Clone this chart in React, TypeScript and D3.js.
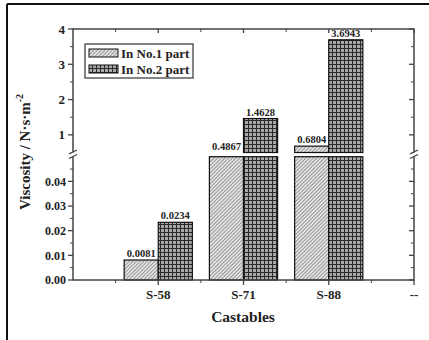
import * as d3 from "d3";

// values
const categories = ["S-58", "S-71", "S-88"];
const part1 = [0.0081, 0.4867, 0.6804];
const part2 = [0.0234, 1.4628, 3.6943];
const seriesNames = ["In No.1 part", "In No.2 part"];
const part1Labels = ["0.0081", "0.4867", "0.6804"];
const part2Labels = ["0.0234", "1.4628", "3.6943"];
const upperTicks = [1, 2, 3, 4];
const lowerTicks = [0, 0.01, 0.02, 0.03, 0.04];
const xTickLabels = [...categories, "--"];

const W = 429;
const H = 340;
const FONT = "'Liberation Serif', 'Times New Roman', serif";
const AXIS = "#444";
const TOP_MIN = 0.5;
const BOT_MAX = 0.05;

function App() {
   const x = d3.scaleLinear().domain([0, 4]).range([73, 414]);
   const yTop = d3.scaleLinear().domain([TOP_MIN, 4]).range([152.5, 29]);
   const yBot = d3.scaleLinear().domain([0, BOT_MAX]).range([280, 156.7]);
   const bw = 0.4;

   // clip a value into each panel
   const topSeg = (v: number) =>
      v > TOP_MIN ? { y0: yTop(v), y1: yTop(TOP_MIN) } : null;
   const botSeg = (v: number) => {
      const c = Math.min(v, BOT_MAX);
      return { y0: yBot(c), y1: yBot(0) };
   };

   const series = [part1, part2];
   const labels = [part1Labels, part2Labels];
   const fills = ["url(#hatch)", "url(#grid)"];

   const upperMinor = d3.range(0.5, 4.01, 0.5).filter((d) => !upperTicks.includes(d));
   const lowerMinor = d3.range(0.005, 0.05, 0.01);
   const xMinor = d3.range(0.5, 4, 1);

   return (
      <svg
         width={W}
         height={H}
         style={{ position: "absolute", left: 0, top: 0, background: "#fff" }}
         fontFamily={FONT}
      >
         <defs>
            <pattern id="hatch" width="2.6" height="2.6" patternUnits="userSpaceOnUse" patternTransform="rotate(45)">
               <rect width="2.6" height="2.6" fill="#e2e2e2" />
               <line x1="0" y1="0" x2="0" y2="2.6" stroke="#555" strokeWidth="1" />
            </pattern>
            <pattern id="grid" width="4" height="4" patternUnits="userSpaceOnUse">
               <rect width="4" height="4" fill="#a8a8a8" />
               <line x1="0" y1="0.5" x2="4" y2="0.5" stroke="#2a2a2a" strokeWidth="1" />
               <line x1="0.5" y1="0" x2="0.5" y2="4" stroke="#2a2a2a" strokeWidth="1" />
            </pattern>
         </defs>

         {/* outer frame */}
         <line x1={7} y1={4} x2={W} y2={4} stroke="#111" strokeWidth={2} />
         <line x1={7} y1={4} x2={7} y2={H} stroke="#111" strokeWidth={2} />

         {/* bars */}
         {series.map((vals, s) =>
            vals.map((v, i) => {
               const cx = i + 1;
               const x0 = s === 0 ? x(cx - bw) : x(cx);
               const x1 = s === 0 ? x(cx) : x(cx + bw);
               const b = botSeg(v);
               const t = topSeg(v);
               const ly = t ? t.y0 : v > BOT_MAX ? yTop(TOP_MIN) : b.y0;
               return (
                  <g key={`${s}-${i}`}>
                     <rect x={x0} y={b.y0} width={x1 - x0} height={b.y1 - b.y0}
                        fill={fills[s]} stroke="#111" strokeWidth={1.2} />
                     {t && (
                        <rect x={x0} y={t.y0} width={x1 - x0} height={t.y1 - t.y0}
                           fill={fills[s]} stroke="#111" strokeWidth={1.2} />
                     )}
                     <text x={(x0 + x1) / 2} y={ly - 3} textAnchor="middle"
                        fontSize={10.5} fontWeight="bold" fill="#222">
                        {labels[s][i]}
                     </text>
                  </g>
               );
            })
         )}

         {/* axes frame */}
         <rect x={x(0)} y={yTop(4)} width={x(4) - x(0)} height={yBot(0) - yTop(4)}
            fill="none" stroke={AXIS} strokeWidth={1.5} />

         {/* left/right ticks, upper panel */}
         {upperTicks.map((d) => (
            <g key={"ul" + d}>
               <line x1={x(0) - 5} x2={x(0)} y1={yTop(d)} y2={yTop(d)} stroke={AXIS} strokeWidth={1.3} />
               <line x1={x(4) - 5} x2={x(4)} y1={yTop(d)} y2={yTop(d)} stroke={AXIS} strokeWidth={1.3} />
               <text x={x(0) - 8} y={yTop(d)} dy="0.35em" textAnchor="end" fontSize={13} fontWeight="bold" fill="#222">
                  {d}
               </text>
            </g>
         ))}
         {upperMinor.map((d) => (
            <g key={"um" + d}>
               <line x1={x(0) - 3} x2={x(0)} y1={yTop(d)} y2={yTop(d)} stroke={AXIS} strokeWidth={1} />
               <line x1={x(4) - 3} x2={x(4)} y1={yTop(d)} y2={yTop(d)} stroke={AXIS} strokeWidth={1} />
            </g>
         ))}
         {/* left/right ticks, lower panel */}
         {lowerTicks.map((d) => (
            <g key={"ll" + d}>
               <line x1={x(0) - 5} x2={x(0)} y1={yBot(d)} y2={yBot(d)} stroke={AXIS} strokeWidth={1.3} />
               <line x1={x(4) - 5} x2={x(4)} y1={yBot(d)} y2={yBot(d)} stroke={AXIS} strokeWidth={1.3} />
               <text x={x(0) - 7} y={yBot(d)} dy="0.35em" textAnchor="end" fontSize={12} fontWeight="bold" fill="#222">
                  {d3.format(".2f")(d)}
               </text>
            </g>
         ))}
         {lowerMinor.map((d) => (
            <g key={"lm" + d}>
               <line x1={x(0) - 3} x2={x(0)} y1={yBot(d)} y2={yBot(d)} stroke={AXIS} strokeWidth={1} />
               <line x1={x(4) - 3} x2={x(4)} y1={yBot(d)} y2={yBot(d)} stroke={AXIS} strokeWidth={1} />
            </g>
         ))}

         {/* x ticks */}
         {xTickLabels.map((lab, i) => (
            <g key={"x" + lab}>
               <line x1={x(i + 1)} x2={x(i + 1)} y1={yBot(0)} y2={yBot(0) + 5} stroke={AXIS} strokeWidth={1.3} />
               <line x1={x(i + 1)} x2={x(i + 1)} y1={yTop(4)} y2={yTop(4) + 4} stroke={AXIS} strokeWidth={1.3} />
               <text x={x(i + 1)} y={yBot(0) + 19} textAnchor="middle" fontSize={13} fontWeight="bold" fill="#222">
                  {lab}
               </text>
            </g>
         ))}
         {xMinor.map((d) => (
            <g key={"xm" + d}>
               <line x1={x(d)} x2={x(d)} y1={yBot(0)} y2={yBot(0) + 3} stroke={AXIS} strokeWidth={1} />
               <line x1={x(d)} x2={x(d)} y1={yTop(4)} y2={yTop(4) + 3} stroke={AXIS} strokeWidth={1} />
            </g>
         ))}

         {/* axis break marks */}
         {[x(0), x(4)].map((bx) => (
            <g key={"br" + bx}>
               <rect x={bx - 3} y={152.5} width={6} height={4.2} fill="#fff" />
               <line x1={bx - 4} y1={154} x2={bx + 4} y2={150} stroke={AXIS} strokeWidth={1.3} />
               <line x1={bx - 4} y1={158.5} x2={bx + 4} y2={154.5} stroke={AXIS} strokeWidth={1.3} />
            </g>
         ))}

         {/* legend */}
         <rect x={85} y={44} width={108} height={34} fill="#fff" stroke="#333" strokeWidth={1.2} />
         {seriesNames.map((name, i) => (
            <g key={name}>
               <rect x={89} y={49 + i * 16} width={29} height={8} fill={fills[i]} stroke="#111" strokeWidth={1} />
               <text x={121} y={57.5 + i * 16} fontSize={13} fontWeight="bold" fill="#222">
                  {name}
               </text>
            </g>
         ))}

         {/* axis titles */}
         <text transform="translate(30,152) rotate(-90)" textAnchor="middle" fontSize={15} fontWeight="bold" fill="#222">
            Viscosity / N·s·m<tspan dy={-7} fontSize={10}>-2</tspan>
         </text>
         <text x={243} y={322} textAnchor="middle" fontSize={15.5} fontWeight="bold" fill="#222">
            Castables
         </text>
      </svg>
   );
}

export default App;
